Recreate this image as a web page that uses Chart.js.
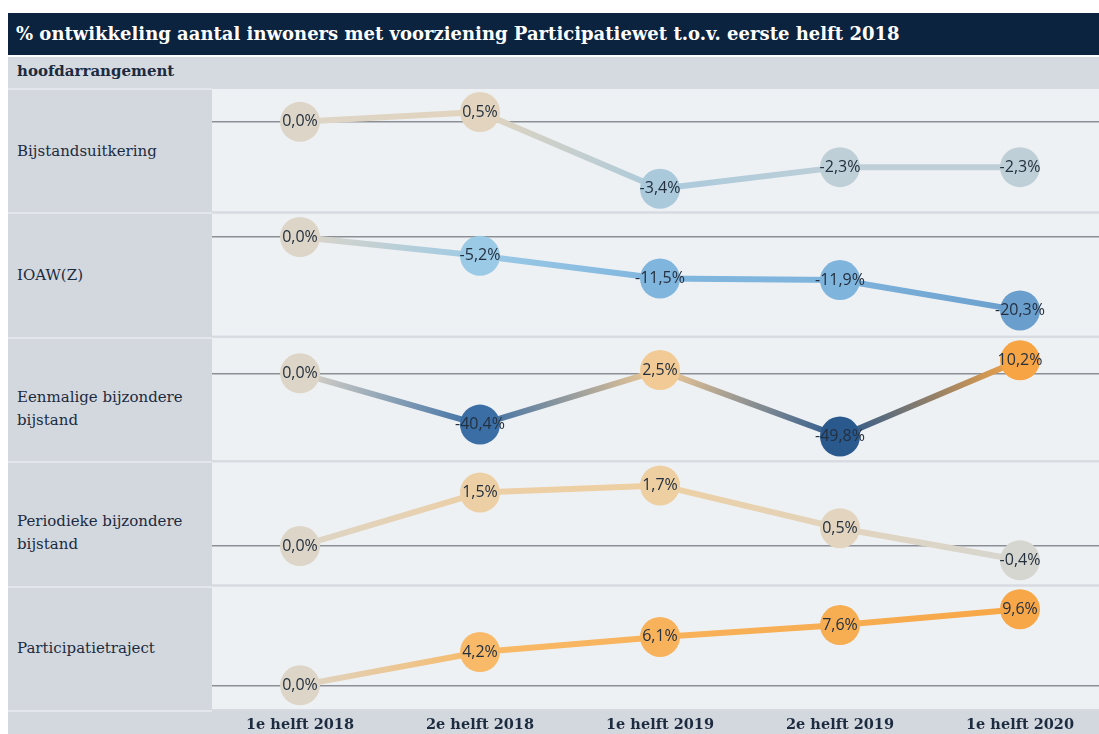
<!DOCTYPE html>
<html>
<head>
<meta charset="utf-8">
<script src="https://cdn.jsdelivr.net/npm/chart.js@4.4.1/dist/chart.umd.min.js"></script>
<style>
  html, body { margin: 0; padding: 0; background: #fff; width: 1099px; height: 734px; overflow: hidden; position: relative; }
  body { font-family: 'DejaVu Serif', serif; }
  #title { position: absolute; left: 8px; top: 13px; width: 1091px; height: 42px; background: #0c2340; color: #fff;
    font-weight: bold; font-size: 18px; line-height: 42px; padding-left: 8px; box-sizing: border-box; white-space: nowrap; }
  #header { position: absolute; left: 8px; top: 57px; width: 1091px; height: 31px; background: #d5dae0; color: #1c2b40;
    font-weight: bold; font-size: 15px; line-height: 28px; padding-left: 9px; box-sizing: border-box; }
  #labels { position: absolute; left: 8px; top: 88px; width: 204px; z-index: 2; }
  .rowlabel { height: 124.4px; box-sizing: border-box; background: #d3d8df; border-top: 2px solid #e3e6ea;
    display: flex; align-items: center; padding-left: 9px; padding-right: 6px; font-size: 15px; line-height: 23px; color: #1c2b40; }
  .rowlabel.twoline { padding-top: 18px; }
  #bottomLeft { position: absolute; left: 8px; top: 710px; width: 204px; height: 24px; background: #d3d8df; border-top: 2px solid #e3e6ea; box-sizing: border-box; z-index: 2; }
  #chartWrap { position: absolute; left: 210px; top: 88px; width: 900px; height: 646px; }
</style>
</head>
<body>
<div id="title">% ontwikkeling aantal inwoners met voorziening Participatiewet t.o.v. eerste helft 2018</div>
<div id="header">hoofdarrangement</div>
<div id="labels"></div>
<div id="bottomLeft"></div>
<div id="chartWrap"><canvas id="chart" width="900" height="646"></canvas></div>
<script>
// categories and rows
const periods = ['1e helft 2018', '2e helft 2018', '1e helft 2019', '2e helft 2019', '1e helft 2020'];
const rowNames = ['Bijstandsuitkering', 'IOAW(Z)', 'Eenmalige bijzondere bijstand', 'Periodieke bijzondere bijstand', 'Participatietraject'];

// % change vs first half 2018, one array per row
const bijstandsuitkering = [0.0, 0.5, -3.4, -2.3, -2.3];
const ioawz = [0.0, -5.2, -11.5, -11.9, -20.3];
const eenmaligeBijzondere = [0.0, -40.4, 2.5, -49.8, 10.2];
const periodiekeBijzondere = [0.0, 1.5, 1.7, 0.5, -0.4];
const participatietraject = [0.0, 4.2, 6.1, 7.6, 9.6];

// each row has its own independent axis range
const axisMin = [-4.6, -27.6, -69.2, -1.11, -3.11];
const axisMax = [1.72, 6.8, 28.7, 2.38, 12.57];

const rowSeries = [bijstandsuitkering, ioawz, eenmaligeBijzondere, periodiekeBijzondere, participatietraject];

// row labels on the left
const labelBox = document.getElementById('labels');
rowNames.forEach(name => {
  const div = document.createElement('div');
  div.className = 'rowlabel' + (name.includes(' ') ? ' twoline' : '');
  div.textContent = name;
  labelBox.appendChild(div);
});

// diverging orange / blue colour, scaled on sqrt of the value
const neutral = [221, 213, 199];
const orangeStops = [[0, neutral], [0.22, [226, 212, 190]], [0.4, [237, 207, 163]], [0.5, [242, 202, 148]], [0.64, [248, 186, 104]], [1, [247, 165, 68]]];
const blueStops = [[0, neutral], [0.09, [214, 214, 208]], [0.21, [192, 208, 214]], [0.26, [170, 202, 220]], [0.32, [156, 202, 230]],
  [0.48, [128, 181, 222]], [0.64, [106, 158, 204]], [0.9, [58, 110, 165]], [1, [42, 89, 142]]];

function colorFor(v) {
  const stops = v >= 0 ? orangeStops : blueStops;
  const range = v >= 0 ? 10.2 : 49.8;
  const t = Math.min(1, Math.sqrt(Math.abs(v) / range));
  for (let i = 1; i < stops.length; i++) {
    if (t <= stops[i][0]) {
      const [t0, c0] = stops[i - 1];
      const [t1, c1] = stops[i];
      const f = (t - t0) / (t1 - t0);
      const c = c0.map((a, k) => Math.round(a + (c1[k] - a) * f));
      return `rgb(${c[0]},${c[1]},${c[2]})`;
    }
  }
  const c = stops[stops.length - 1][1];
  return `rgb(${c[0]},${c[1]},${c[2]})`;
}

const datasets = rowSeries.map((values, i) => ({
  label: rowNames[i],
  data: values,
  yAxisID: 'y' + i,
  borderWidth: 6,
  pointRadius: 20,
  pointHoverRadius: 20,
  pointBorderWidth: 0,
  pointBackgroundColor: ctx => colorFor(values[ctx.dataIndex]),
  clip: false,
  segment: {
    borderColor: ctx => {
      const g = ctx.chart.ctx.createLinearGradient(ctx.p0.x, ctx.p0.y, ctx.p1.x, ctx.p1.y);
      g.addColorStop(0, colorFor(values[ctx.p0DataIndex]));
      g.addColorStop(1, colorFor(values[ctx.p1DataIndex]));
      return g;
    }
  }
}));

const scales = {
  x: {
    type: 'category',
    offset: true,
    grid: { display: false, drawTicks: false },
    border: { display: false },
    ticks: { color: '#1c2b40', font: { family: 'DejaVu Serif', weight: 'bold', size: 14.5 }, padding: 7, maxRotation: 0, autoSkip: false },
    afterFit: s => { s.height = 24; }
  }
};
// stacked left axes are laid out last-defined on top, so add bottom row first
for (let i = rowSeries.length - 1; i >= 0; i--) {
  scales['y' + i] = {
    type: 'linear',
    position: 'left',
    stack: 'rows',
    stackWeight: 1,
    min: axisMin[i],
    max: axisMax[i],
    ticks: { display: false },
    border: { display: false },
    grid: {
      drawTicks: false,
      lineWidth: 1.5,
      color: c => (c.tick && c.tick.value === 0) ? '#8b8f95' : 'rgba(0,0,0,0)'
    },
    afterFit: s => { s.width = 0; }
  };
}

// backgrounds, row separators and value labels
const framePlugin = {
  id: 'frame',
  beforeDraw(chart) {
    const { ctx, chartArea, width, height } = chart;
    ctx.save();
    ctx.fillStyle = '#eef1f4';
    ctx.fillRect(0, 0, width, chartArea.bottom);
    ctx.fillStyle = '#d3d8df';
    ctx.fillRect(0, chartArea.bottom, width, height - chartArea.bottom);
    ctx.strokeStyle = '#d7dbe1';
    ctx.lineWidth = 2;
    rowSeries.forEach((_, i) => {
      const s = chart.scales['y' + i];
      [s.top, s.bottom].forEach(y => {
        ctx.beginPath();
        ctx.moveTo(0, y);
        ctx.lineTo(width, y);
        ctx.stroke();
      });
    });
    ctx.restore();
  },
  afterDatasetsDraw(chart) {
    const ctx = chart.ctx;
    ctx.save();
    ctx.font = '16px "Open Sans"';
    ctx.fillStyle = '#24303f';
    ctx.textAlign = 'center';
    ctx.textBaseline = 'middle';
    chart.data.datasets.forEach((ds, i) => {
      chart.getDatasetMeta(i).data.forEach((pt, j) => {
        const txt = ds.data[j].toFixed(1).replace('.', ',') + '%';
        ctx.fillText(txt, pt.x, pt.y);
      });
    });
    ctx.restore();
  }
};

new Chart(document.getElementById('chart'), {
  type: 'line',
  data: { labels: periods, datasets },
  options: {
    responsive: false,
    animation: false,
    events: [],
    layout: { padding: 0, autoPadding: false },
    plugins: { legend: { display: false }, tooltip: { enabled: false } },
    scales
  },
  plugins: [framePlugin]
});
</script>
</body>
</html>
